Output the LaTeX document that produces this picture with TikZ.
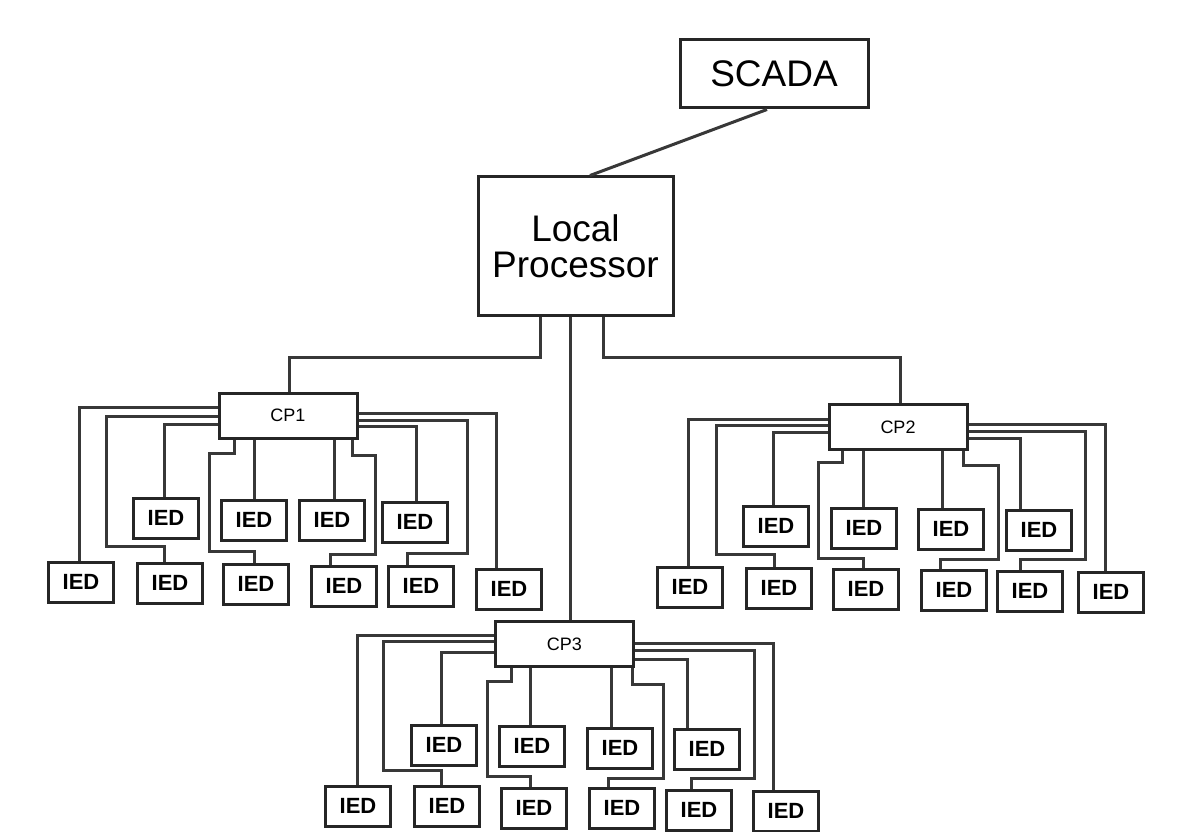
\documentclass[tikz,border=0pt]{standalone}
\usepackage{fontspec}
\setmainfont{Liberation Sans}
\begin{document}
\begin{tikzpicture}[x=1pt,y=-1pt,
  box/.style={draw=black!85,line width=3pt,inner sep=0pt,fill=white},
  ied/.style={box,minimum width=65pt,minimum height=40pt,font=\fontsize{22}{22}\selectfont\bfseries},
  cpbox/.style={box,minimum width=138pt,minimum height=45pt,font=\fontsize{18}{18}\selectfont},
  wire/.style={draw=black!78,line width=3pt}]
\useasboundingbox (0,0) rectangle (1179,832);
% main nodes
\node[box,minimum width=188pt,minimum height=68pt,font=\fontsize{37}{37}\selectfont] (scada) at (774,74) {SCADA};
\node[box,minimum width=195pt,minimum height=138pt,align=center,font=\fontsize{37}{36}\selectfont] (lp) at (575.5,246) {Local\\Processor};
\node[cpbox] (cp1) at (288,415.5) {CP1};
\node[cpbox] (cp2) at (898,427) {CP2};
\node[cpbox] (cp3) at (564.5,644) {CP3};
% CP1 IEDs
\node[ied] (a1) at (166,518) {IED};
\node[ied] (a2) at (254,520) {IED};
\node[ied] (a3) at (332,520) {IED};
\node[ied] (a4) at (415,522) {IED};
\node[ied] (a5) at (81,582) {IED};
\node[ied] (a6) at (170,583) {IED};
\node[ied] (a7) at (256,584) {IED};
\node[ied] (a8) at (344,586) {IED};
\node[ied] (a9) at (421,586) {IED};
\node[ied] (a10) at (509,589) {IED};
% CP2 IEDs
\node[ied] (b1) at (776,526) {IED};
\node[ied] (b2) at (864,528) {IED};
\node[ied] (b3) at (951,529) {IED};
\node[ied] (b4) at (1039,530) {IED};
\node[ied] (b5) at (690,587) {IED};
\node[ied] (b6) at (779,588) {IED};
\node[ied] (b7) at (866,589) {IED};
\node[ied] (b8) at (954,590) {IED};
\node[ied] (b9) at (1030,591) {IED};
\node[ied] (b10) at (1111,592) {IED};
% CP3 IEDs
\node[ied] (c1) at (444,745) {IED};
\node[ied] (c2) at (532,746) {IED};
\node[ied] (c3) at (620,748) {IED};
\node[ied] (c4) at (707,749) {IED};
\node[ied] (c5) at (358,806) {IED};
\node[ied] (c6) at (447,806) {IED};
\node[ied] (c7) at (534,808) {IED};
\node[ied] (c8) at (622,808) {IED};
\node[ied] (c9) at (699,810) {IED};
\node[ied] (c10) at (786,811) {IED};
% top connections
\draw[wire] (lp.north -| 590,0) -- (scada.south -| 767,0);
\draw[wire] (lp.south -| 540,0) |- (289,357) -- (cp1.north -| 289,0);
\draw[wire] (lp.south -| 570,0) -- (cp3.north -| 570,0);
\draw[wire] (lp.south -| 603,0) |- (900,357) -- (cp2.north -| 900,0);
% CP1 wiring
\draw[wire] (cp1.west |- 0,407) -| (a5.north -| 79,0);
\draw[wire] (cp1.west |- 0,416) -| (106,546) -| (a6.north -| 164,0);
\draw[wire] (cp1.west |- 0,424) -| (a1.north -| 164,0);
\draw[wire] (cp1.south -| 234,0) |- (209,453) |- (254,551) -- (a7.north -| 254,0);
\draw[wire] (cp1.south -| 254,0) -- (a2.north -| 254,0);
\draw[wire] (cp1.south -| 334,0) -- (a3.north -| 334,0);
\draw[wire] (cp1.south -| 352,0) |- (375,455) |- (330,554) -- (a8.north -| 330,0);
\draw[wire] (cp1.east |- 0,426) -| (a4.north -| 416,0);
\draw[wire] (cp1.east |- 0,420) -| (467,553) -| (a9.north -| 407,0);
\draw[wire] (cp1.east |- 0,413) -| (a10.north -| 496,0);
% CP2 wiring
\draw[wire] (cp2.west |- 0,419) -| (b5.north -| 688,0);
\draw[wire] (cp2.west |- 0,425) -| (716,554) -| (b6.north -| 774,0);
\draw[wire] (cp2.west |- 0,432) -| (b1.north -| 773,0);
\draw[wire] (cp2.south -| 842,0) |- (818,462) |- (863,558) -- (b7.north -| 863,0);
\draw[wire] (cp2.south -| 863,0) -- (b2.north -| 863,0);
\draw[wire] (cp2.south -| 942,0) -- (b3.north -| 942,0);
\draw[wire] (cp2.south -| 963,0) |- (998,465) |- (940,559) -- (b8.north -| 940,0);
\draw[wire] (cp2.east |- 0,438) -| (b4.north -| 1020,0);
\draw[wire] (cp2.east |- 0,431) -| (1085,559) -| (b9.north -| 1020,0);
\draw[wire] (cp2.east |- 0,424) -| (b10.north -| 1105,0);
% CP3 wiring
\draw[wire] (cp3.west |- 0,635) -| (c5.north -| 357,0);
\draw[wire] (cp3.west |- 0,641) -| (383,770) -| (c6.north -| 441,0);
\draw[wire] (cp3.west |- 0,652) -| (c1.north -| 441,0);
\draw[wire] (cp3.south -| 511,0) |- (487,681) |- (530,776) -- (c7.north -| 530,0);
\draw[wire] (cp3.south -| 530,0) -- (c2.north -| 530,0);
\draw[wire] (cp3.south -| 611,0) -- (c3.north -| 611,0);
\draw[wire] (cp3.south -| 632,0) |- (663,684) |- (608,778) -- (c8.north -| 608,0);
\draw[wire] (cp3.east |- 0,659) -| (c4.north -| 687,0);
\draw[wire] (cp3.east |- 0,650) -| (754,778) -| (c9.north -| 691,0);
\draw[wire] (cp3.east |- 0,643) -| (c10.north -| 773,0);
\end{tikzpicture}
\end{document}
